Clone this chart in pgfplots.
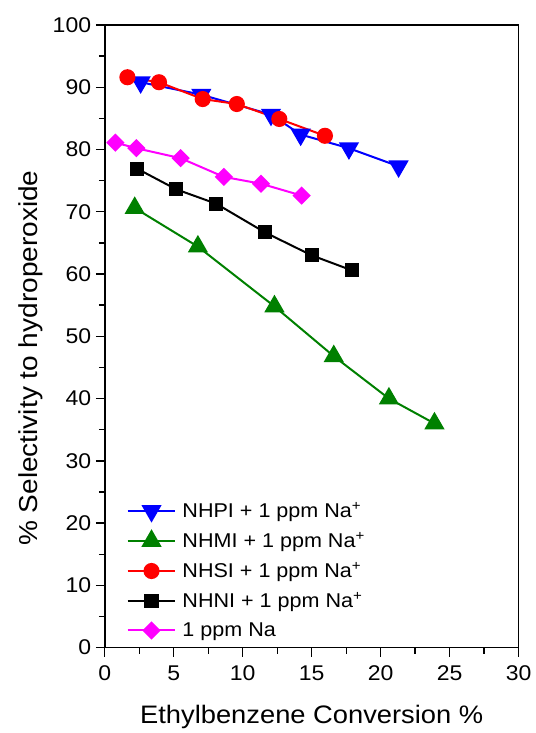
\documentclass[border=0pt]{standalone}
\usepackage{pgfplots}
\pgfplotsset{compat=1.18}
\usepackage{fontspec}
\setmainfont{Liberation Sans}[FakeStretch=1.08]

\definecolor{cgreen}{RGB}{0,128,0}
\definecolor{cmag}{RGB}{255,0,255}
\definecolor{cblue}{RGB}{0,0,255}
\definecolor{cred}{RGB}{255,0,0}

\begin{document}
\begin{tikzpicture}
\begin{axis}[
    scale only axis,
    width=311pt, height=468pt,
    xmin=0, xmax=30, ymin=0, ymax=100,
    xtick={0,5,...,30}, ytick={0,10,...,100},
    minor x tick num=1, minor y tick num=1,
    tick align=outside, xtick pos=bottom, ytick pos=left,
    major tick length=6.75pt, minor tick length=4.5pt,
    axis line style={line width=1.2pt},
    every tick/.style={black, line width=1pt},
    tick label style={font=\fontsize{16}{16}\selectfont},
    xticklabel style={yshift=-3.5pt},
    /pgf/number format/assume math mode=true,
    xlabel={Ethylbenzene Conversion \%},
    ylabel={\% Selectivity to hydroperoxide},
    every axis x label/.style={at={(axis description cs:0.5,-0.111)}, anchor=center,
        font=\fontsize{19}{19}\selectfont},
    every axis y label/.style={at={(axis description cs:-0.18,0.465)}, anchor=center,
        rotate=90, font=\fontsize{19.5}{19.5}\selectfont},
    legend style={at={(axis description cs:0.052,0.238)}, anchor=north west,
        draw=none, fill=none, font=\fontsize{15}{15}\selectfont,
        row sep=5.8pt, inner sep=0pt,
        nodes={inner xsep=4.5pt}},
    legend cell align=left,
    legend image code/.code={\draw[mark repeat=2,mark phase=2]
        plot coordinates {(0pt,0pt)(18pt,0pt)(36pt,0pt)};},
    every axis plot/.append style={line width=1.5pt},
]
\addplot[cblue, mark=triangle*, mark size=7.3pt, mark options={rotate=180, solid}] coordinates {
    (2.6,90.8) (7.0,88.8) (12.05,85.6) (14.2,82.4) (17.7,80.2) (21.3,77.3)
};
\addlegendentry{NHPI + 1 ppm Na\textsuperscript{+}}
\addplot[cgreen, mark=triangle*, mark size=7.3pt] coordinates {
    (2.17,70.6) (6.75,64.4) (12.3,54.8) (16.6,46.8) (20.6,40.0) (23.9,36.0)
};
\addlegendentry{NHMI + 1 ppm Na\textsuperscript{+}}
\addplot[cred, mark=*, mark size=5.3pt] coordinates {
    (1.64,91.6) (3.93,90.8) (7.1,88.1) (9.57,87.3) (12.65,84.9) (15.96,82.2)
};
\addlegendentry{NHSI + 1 ppm Na\textsuperscript{+}}
\addplot[black, mark=square*, mark size=4.6pt] coordinates {
    (2.36,76.9) (5.18,73.6) (8.07,71.3) (11.6,66.7) (15.0,63.0) (17.9,60.6)
};
\addlegendentry{NHNI + 1 ppm Na\textsuperscript{+}}
\addplot[cmag, mark=square*, mark size=4.1pt, mark options={rotate=45}] coordinates {
    (0.77,81.1) (2.29,80.2) (5.5,78.6) (8.63,75.6) (11.33,74.5) (14.27,72.6)
};
\addlegendentry{1 ppm Na}
\end{axis}
\path (current axis.south west) ++(-78.75pt,-63pt) coordinate (bbsw);
\path (current axis.north east) ++(12pt,18.75pt) coordinate (bbne);
\path (bbsw) rectangle (bbne);
\end{tikzpicture}
\end{document}
